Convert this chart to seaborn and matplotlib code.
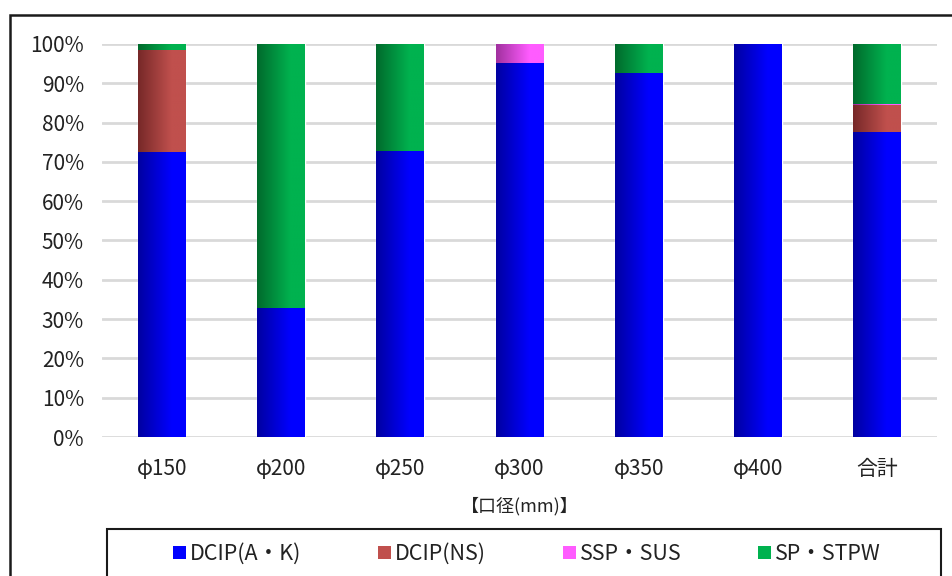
import numpy as np
import pandas as pd
import matplotlib
matplotlib.use("Agg")
import matplotlib.pyplot as plt
import seaborn as sns
from matplotlib.colors import LinearSegmentedColormap
from matplotlib.patches import Rectangle, Patch
from matplotlib.ticker import PercentFormatter

# 口径別の管種構成比（%）
categorias = ["φ150", "φ200", "φ250", "φ300", "φ350", "φ400", "合計"]
series = ["DCIP(A・K)", "DCIP(NS)", "SSP・SUS", "SP・STPW"]
dcip_ak = [72.6, 32.7, 72.8, 95.2, 92.7, 100.0, 77.6]
dcip_ns = [25.9, 0.0, 0.0, 0.0, 0.0, 0.0, 6.8]
ssp_sus = [0.0, 0.0, 0.0, 4.8, 0.0, 0.0, 0.4]
sp_stpw = [1.5, 67.3, 27.2, 0.0, 7.3, 0.0, 15.2]

# gradiente: escuro -> claro
cores = {
    "DCIP(A・K)": ("#0000A0", "#0000FF"),
    "DCIP(NS)": ("#762828", "#C0504D"),
    "SSP・SUS": ("#A0309E", "#FF5CFF"),
    "SP・STPW": ("#006A2C", "#00B24F"),
}

sns.set_theme(style="white")
plt.rcParams["font.family"] = ["Noto Sans CJK JP", "DejaVu Sans"]

df = pd.DataFrame({"口径": categorias})
for nome, vals in zip(series, [dcip_ak, dcip_ns, ssp_sus, sp_stpw]):
    df[nome] = np.array(vals) / 100.0

fig = plt.figure(figsize=(9.53, 5.76), dpi=100)
ax = fig.add_axes([102 / 953, 1 - 437 / 576, 835 / 953, 393 / 576])

base = np.zeros(len(categorias))
grupos = []
for nome in series:
    n_antes = len(ax.patches)
    sns.barplot(data=df, x="口径", y=nome, color=cores[nome][1], width=0.4,
                bottom=base, errorbar=None, saturation=1, ax=ax, zorder=3)
    grupos.append((nome, ax.patches[n_antes:]))
    base = base + df[nome].to_numpy()

# aplicar gradiente horizontal em cada barra
grad = np.linspace(0, 1, 256).reshape(1, -1)
for nome, barras in grupos:
    cmap = LinearSegmentedColormap.from_list(
        nome, [(0, cores[nome][0]), (0.7, cores[nome][1]), (1, cores[nome][1])])
    for b in barras:
        if b.get_height() <= 0:
            continue
        x0, y0 = b.get_x(), b.get_y()
        im = ax.imshow(grad, cmap=cmap, aspect="auto", zorder=4,
                       extent=[x0, x0 + b.get_width(), y0, y0 + b.get_height()])
        im.set_clip_path(b)

ax.set_xlim(-0.5, 6.5)
ax.set_ylim(0, 1)
ax.yaxis.set_major_locator(plt.MultipleLocator(0.1))
ax.yaxis.set_major_formatter(PercentFormatter(1, decimals=0))
ax.grid(axis="y", color="#D9D9D9", linewidth=2, zorder=0)
ax.set_axisbelow(True)
for s in ax.spines.values():
    s.set_visible(False)
ax.tick_params(axis="both", length=0, labelsize=15, colors="#222222")
ax.tick_params(axis="x", pad=15)
ax.tick_params(axis="y", pad=13)
ax.set_ylabel("")
ax.set_xlabel("【口径(mm)】", fontsize=13, color="#222222", labelpad=12.5)

# legenda
handles = [Patch(facecolor=cores[n][1], edgecolor="none") for n in series]
fig.legend(handles, series, loc="center", bbox_to_anchor=(527 / 953, 1 - 554 / 576),
           ncol=4, frameon=False, fontsize=15.5, handlelength=0.6, handleheight=0.6,
           handletextpad=0.2, columnspacing=3.55, labelcolor="#222222")
fig.patches.append(Rectangle((107 / 953, -0.1), 834 / 953, 0.1 + 47 / 576,
                             transform=fig.transFigure, fill=False,
                             edgecolor="#1A1A1A", linewidth=1.5))
# moldura externa
fig.patches.append(Rectangle((10 / 953, -0.1), 1.2, 1.1 - 15 / 576,
                             transform=fig.transFigure, fill=False,
                             edgecolor="#1A1A1A", linewidth=1.8))

fig.savefig("out.png", dpi=100)
